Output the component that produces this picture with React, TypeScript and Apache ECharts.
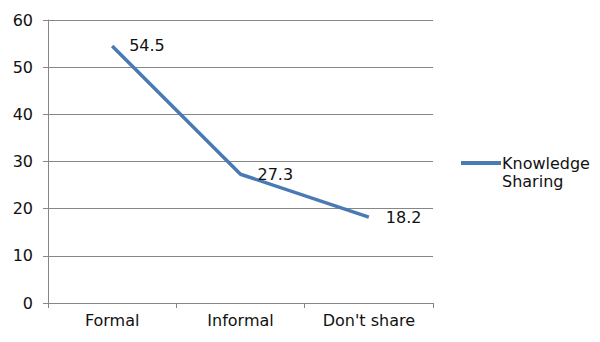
import React, { useEffect, useRef } from "react";
import * as echarts from "echarts";

const categories = ["Formal", "Informal", "Don't share"];
const knowledgeSharing = [54.5, 27.3, 18.2];
const seriesName = "Knowledge Sharing";

export default function App() {
  const ref = useRef<HTMLDivElement>(null);
  useEffect(() => {
    if (!ref.current) return;
    const chart = echarts.init(ref.current, undefined, { renderer: "svg" });
    const font = "'DejaVu Sans', sans-serif";
    const lineColor = "#4a7ab3";
    chart.setOption({
      animation: false,
      backgroundColor: "#ffffff",
      grid: { left: 48, right: 167, top: 20, bottom: 39, containLabel: false },
      xAxis: {
        type: "category",
        data: categories,
        boundaryGap: true,
        axisLine: { lineStyle: { color: "#868686", width: 1 } },
        axisTick: { show: true, length: 5, lineStyle: { color: "#868686" } },
        axisLabel: { color: "#111", fontSize: 16, fontFamily: font, margin: 9 },
      },
      yAxis: {
        type: "value",
        min: 0,
        max: 60,
        interval: 10,
        axisLine: { show: true, lineStyle: { color: "#868686", width: 1 } },
        axisTick: { show: true, length: 5, lineStyle: { color: "#868686" } },
        splitLine: { lineStyle: { color: "#868686", width: 1 } },
        axisLabel: { color: "#111", fontSize: 16, fontFamily: font, margin: 15 },
      },
      legend: {
        orient: "vertical",
        left: 456,
        top: 131,
        itemWidth: 40,
        itemHeight: 4,
        itemGap: 0,
        icon: "rect",
        itemStyle: { color: lineColor },
        formatter: () => " \nKnowledge\nSharing",
        textStyle: {
          color: "#111",
          fontSize: 16,
          fontFamily: font,
          lineHeight: 18,
          padding: [0, 0, 0, -4],
        },
        data: [seriesName],
      },
      series: [
        {
          name: seriesName,
          type: "line",
          data: knowledgeSharing,
          showSymbol: true,
          symbol: "circle",
          symbolSize: 0,
          lineStyle: { color: lineColor, width: 3.5 },
          itemStyle: { color: lineColor },
          label: {
            show: true,
            position: "right",
            distance: 17,
            color: "#111",
            fontSize: 16,
            fontFamily: font,
            formatter: (p: any) => String(p.value),
          },
        },
      ],
    });
    return () => chart.dispose();
  }, []);
  return <div ref={ref} style={{ width: 600, height: 342, margin: -8 }} />;
}
